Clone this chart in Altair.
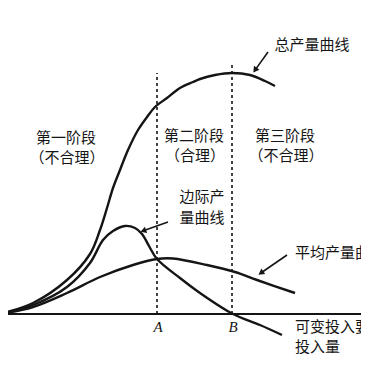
import math
import altair as alt
import pandas as pd

# ---- data (x: variable input, y: output) ----
tp_x = [0, 1.65, 3.35, 4.5, 5.0, 5.35, 5.65, 6.0, 6.4, 6.9, 7.35, 7.75, 8.35, 9.0, 9.65, 10.0, 10.75, 11.6, 12.5, 13.25, 13.75]
tp_y = [0, 1.1, 3.4, 6.0, 8.4, 10.6, 12.6, 14.4, 16.4, 18.4, 19.7, 20.7, 21.6, 22.6, 23.2, 23.5, 23.9, 24.1, 23.9, 23.3, 22.8]

mp_x = [0, 1.65, 3.35, 4.5, 5.15, 5.65, 6.25, 6.75, 7.1, 7.45, 7.85, 9.0, 10.0, 11.65, 13.0, 14.1]
mp_y = [0, 0.9, 2.7, 5.1, 7.4, 8.3, 8.8, 8.6, 8.0, 6.8, 5.5, 3.6, 2.1, 0.0, -1.1, -2.1]

ap_x = [0, 1.65, 3.35, 5.0, 6.65, 7.85, 8.65, 10.35, 11.75, 12.85, 14.75]
ap_y = [0, 0.7, 2.1, 3.7, 4.9, 5.5, 5.55, 4.9, 4.2, 3.4, 2.1]

A_x, A_top = 7.85, 24.1
B_x, B_top = 11.6, 24.9

# arrows: start -> tip
arrow_x0 = [13.4, 8.4, 14.35]
arrow_y0 = [26.2, 9.2, 5.9]
arrow_x1 = [12.65, 7.0, 12.9]
arrow_y1 = [24.1, 8.2, 3.9]

center_labels = ["总产量曲线", "第一阶段", "（不合理）", "第二阶段", "（合理）", "第三阶段", "（不合理）", "边际产", "量曲线"]
center_x = [15.6, 3.3, 3.35, 9.7, 9.75, 14.25, 14.3, 10.1, 10.1]
center_y = [26.9, 17.6, 15.6, 17.8, 15.8, 17.8, 15.8, 11.7, 9.6]

left_labels = ["平均产量曲线", "可变投入要素", "投入量"]
left_x = [14.75, 14.75, 14.75]
left_y = [6.1, -1.3, -3.3]

pt_labels = ["O", "A", "B"]
pt_x = [0.0, 7.9, 11.65]
pt_y = [-1.2, -1.3, -1.3]

# ---- scales ----
PX_X, PX_Y = 20.0, 10.0
xs = alt.Scale(domain=[0.4, 18.05], nice=False, zero=False)
ys = alt.Scale(domain=[-4.7, 30.6], nice=False, zero=False)
INK = "#151515"
FONT = "Noto Sans CJK SC"

def X(f="x"):
    return alt.X(f"{f}:Q", scale=xs, axis=None)

def Y(f="y"):
    return alt.Y(f"{f}:Q", scale=ys, axis=None)

def curve(xv, yv):
    df = pd.DataFrame({"x": xv, "y": yv})
    return alt.Chart(df).mark_line(color=INK, strokeWidth=2.4, interpolate="catmull-rom", clip=True).encode(x=X(), y=Y())

tp = curve(tp_x, tp_y)
mp = curve(mp_x, mp_y)
ap = curve(ap_x, ap_y)

axis_line = alt.Chart(pd.DataFrame({"y": [0]})).mark_rule(color=INK, strokeWidth=2).encode(y=Y())

dash_df = pd.DataFrame({"x": [A_x, B_x], "y": [0, 0], "y2": [A_top, B_top]})
dashes = alt.Chart(dash_df).mark_rule(color=INK, strokeWidth=1.6, strokeDash=[3, 3]).encode(
    x=X(), y=Y(), y2="y2:Q")

# arrows
rows = []
for x0, y0, x1, y1 in zip(arrow_x0, arrow_y0, arrow_x1, arrow_y1):
    dxp = (x1 - x0) * PX_X
    dyp = -(y1 - y0) * PX_Y
    L = math.hypot(dxp, dyp)
    ux, uy = dxp / L, dyp / L
    hx = x1 - ux * 3.5 / PX_X
    hy = y1 + uy * 3.5 / PX_Y
    ang = math.degrees(math.atan2(dxp, -dyp)) % 360
    rows.append({"x": x0, "y": y0, "x2": hx, "y2": hy, "hx": hx, "hy": hy, "ang": ang})
arr_df = pd.DataFrame(rows)
shafts = alt.Chart(arr_df).mark_rule(color=INK, strokeWidth=1.6).encode(x=X(), y=Y(), x2="x2:Q", y2="y2:Q")
heads = alt.Chart(arr_df).mark_point(shape="triangle-up", filled=True, color=INK, size=45, opacity=1).encode(
    x=X("hx"), y=Y("hy"), angle=alt.Angle("ang:Q", scale=None))

ctext = alt.Chart(pd.DataFrame({"t": center_labels, "x": center_x, "y": center_y})).mark_text(
    font=FONT, fontSize=15, color=INK, align="center", baseline="middle").encode(x=X(), y=Y(), text="t:N")
ltext = alt.Chart(pd.DataFrame({"t": left_labels, "x": left_x, "y": left_y})).mark_text(
    font=FONT, fontSize=15, color=INK, align="left", baseline="middle", clip=True).encode(x=X(), y=Y(), text="t:N")
ptext = alt.Chart(pd.DataFrame({"t": pt_labels, "x": pt_x, "y": pt_y})).mark_text(
    font="Liberation Serif", fontSize=15, fontStyle="italic", color=INK, align="center", baseline="middle",
    clip=True).encode(x=X(), y=Y(), text="t:N")

chart = alt.layer(axis_line, dashes, tp, mp, ap, shafts, heads, ctext, ltext, ptext).properties(
    width=353, height=353, autosize=alt.AutoSizeParams(type="none"), padding=0,
    background="white").configure_view(stroke=None)

chart.save("out.html", embed_options={"renderer": "svg", "actions": False})
